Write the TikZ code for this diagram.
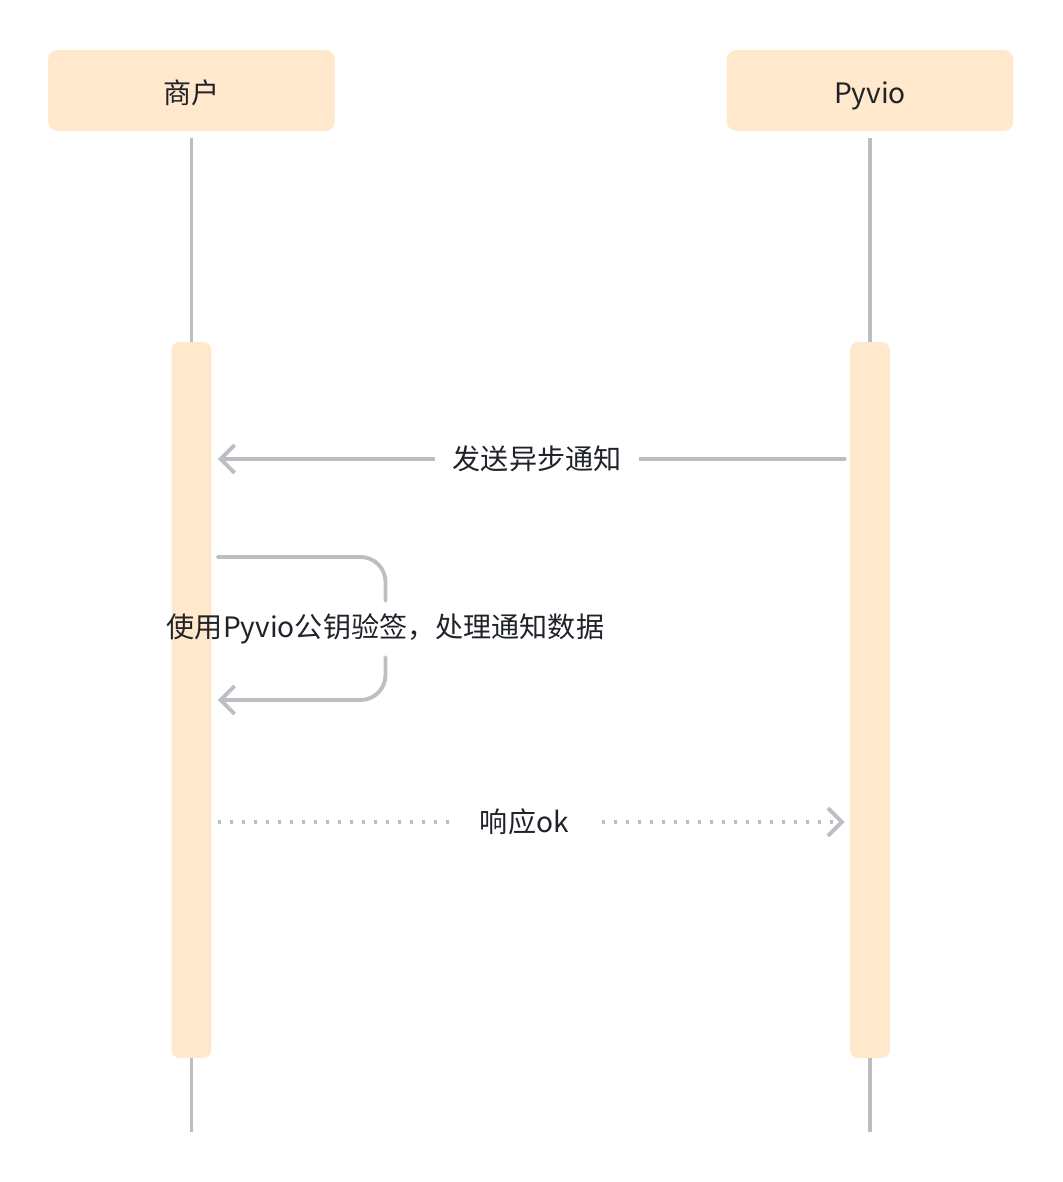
\documentclass[tikz,border=0pt]{standalone}
\usepackage{fontspec}
\newfontfamily\cjk{Noto Sans CJK SC}
\usepackage{xcolor}
\usetikzlibrary{arrows.meta}
\definecolor{headfill}{HTML}{FFE8CC}
\definecolor{lifegray}{HTML}{BBBFC4}
\definecolor{inkdark}{HTML}{1F2329}

\begin{document}
\begin{tikzpicture}[x=0.02cm, y=-0.02cm, every node/.style={font=\cjk\fontsize{16pt}{19pt}\selectfont, text=inkdark},
  head/.style={fill=headfill, rounded corners=0.2cm, minimum width=5.74cm, minimum height=1.62cm, text height=0.66cm, text depth=0.12cm},
  actbar/.style={fill=headfill, rounded corners=0.16cm, minimum width=0.8cm, minimum height=14.32cm},
  life/.style={draw=lifegray, line width=2.2pt},
  msg/.style={draw=lifegray, line width=2.2pt, line cap=round, >={Straight Barb[length=0.28cm, width=0.56cm]}},
  lbl/.style={fill=white, inner xsep=0.36cm}]
\useasboundingbox (0,0) rectangle (1062,1182);
\node[head] (hdrA) at (191.5,90.5) {商户};
\node[head] (hdrB) at (870,90.5) {Pyvio};
\coordinate (endA) at (191.5,1132); \coordinate (endB) at (870,1132);
\draw[life, shorten <=0.14cm] (hdrA) -- (endA); \draw[life, shorten <=0.14cm] (hdrB) -- (endB);
\node[actbar] (actA) at (191.5,700) {}; \node[actbar] (actB) at (870,700) {};
\coordinate (y1) at (0,459); \coordinate (y2) at (0,557); \coordinate (y3) at (0,700); \coordinate (y4) at (0,822);
\draw[msg, ->, shorten <=0.1cm, shorten >=0.12cm] (actB.west |- y1) -- node[lbl, pos=0.49] (t1) {发送异步通知} (actA.east |- y1);
\node[inner sep=0pt, minimum height=1.12cm] (t2) at (385.5,629) {使用Pyvio公钥验签，处理通知数据};
\draw[msg, rounded corners=0.5cm, shorten <=0.12cm] (actA.east |- y2) -| (t2.north);
\draw[msg, ->, rounded corners=0.5cm, shorten >=0.12cm] (t2.south) |- (actA.east |- y3);
\draw[msg, ->, line cap=butt, dash pattern=on 0.07cm off 0.17cm, shorten <=0.12cm, shorten >=0.1cm] (actA.east |- y4) -- node[lbl, inner xsep=0.5cm, pos=0.49] (t3) {响应ok} (actB.west |- y4);
\end{tikzpicture}
\end{document}
